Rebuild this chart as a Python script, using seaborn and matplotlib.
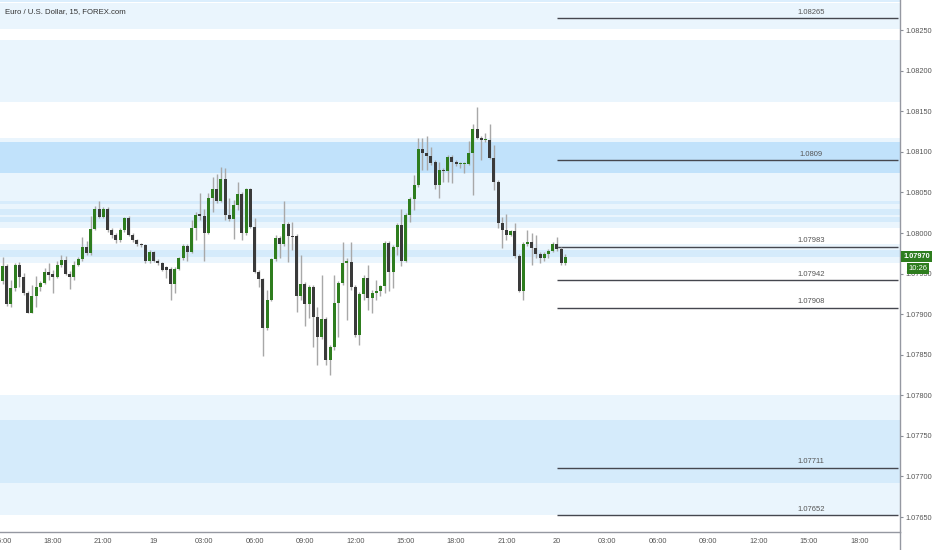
import matplotlib.pyplot as plt
import pandas as pd
import seaborn as sns
import numpy as np

# EUR/USD 15 min candles (index 0 = 15:00 on the 18th)
opens = [1.07941, 1.07959, 1.07913, 1.07932, 1.07961, 1.07946, 1.07926, 1.07902, 1.07923, 1.07933,
         1.07939, 1.07952, 1.07950, 1.07946, 1.07960, 1.07967, 1.07950, 1.07946, 1.07960, 1.07968,
         1.07983, 1.07975, 1.08005, 1.08030, 1.08020, 1.08030, 1.08004, 1.07998, 1.07991, 1.08004,
         1.08018, 1.07998, 1.07991, 1.07986, 1.07985, 1.07965, 1.07976, 1.07966, 1.07963, 1.07958,
         1.07956, 1.07937, 1.07956, 1.07969, 1.07984, 1.07977, 1.08006, 1.08023, 1.08021, 1.08000,
         1.08043, 1.08054, 1.08040, 1.08067, 1.08022, 1.08017, 1.08035, 1.08048, 1.08000, 1.08054,
         1.08008, 1.07952, 1.07943, 1.07883, 1.07918, 1.07968, 1.07994, 1.07986, 1.08011, 1.07996,
         1.07996, 1.07922, 1.07937, 1.07912, 1.07933, 1.07897, 1.07872, 1.07894, 1.07844, 1.07860,
         1.07914, 1.07938, 1.07963, 1.07964, 1.07934, 1.07874, 1.07925, 1.07944, 1.07920, 1.07926,
         1.07929, 1.07935, 1.07988, 1.07952, 1.07983, 1.08010, 1.07966, 1.08022, 1.08042, 1.08059,
         1.08103, 1.08099, 1.08095, 1.08088, 1.08059, 1.08078, 1.08076, 1.08094, 1.08088, 1.08085,
         1.08085, 1.08085, 1.08099, 1.08128, 1.08117, 1.08114, 1.08114, 1.08093, 1.08063, 1.08012,
         1.08004, 1.07998, 1.08002, 1.07972, 1.07929, 1.07987, 1.07989, 1.07981, 1.07974, 1.07969,
         1.07974, 1.07978, 1.07986, 1.07980, 1.07963]
closes = [1.07959, 1.07913, 1.07932, 1.07961, 1.07946, 1.07926, 1.07902, 1.07923, 1.07933, 1.07939,
          1.07952, 1.07948, 1.07946, 1.07960, 1.07967, 1.07950, 1.07946, 1.07961, 1.07968, 1.07983,
          1.07975, 1.08005, 1.08030, 1.08020, 1.08030, 1.08004, 1.07998, 1.07991, 1.08004, 1.08018,
          1.07998, 1.07991, 1.07986, 1.07985, 1.07965, 1.07976, 1.07966, 1.07963, 1.07955, 1.07955,
          1.07937, 1.07956, 1.07969, 1.07984, 1.07977, 1.08006, 1.08022, 1.08021, 1.08000, 1.08043,
          1.08054, 1.08040, 1.08067, 1.08022, 1.08017, 1.08035, 1.08048, 1.08000, 1.08054, 1.08008,
          1.07952, 1.07943, 1.07883, 1.07918, 1.07968, 1.07994, 1.07986, 1.08011, 1.07996, 1.07995,
          1.07922, 1.07937, 1.07912, 1.07933, 1.07897, 1.07872, 1.07894, 1.07844, 1.07860, 1.07914,
          1.07938, 1.07963, 1.07965, 1.07934, 1.07874, 1.07925, 1.07944, 1.07920, 1.07926, 1.07929,
          1.07935, 1.07988, 1.07952, 1.07983, 1.08010, 1.07966, 1.08022, 1.08042, 1.08059, 1.08103,
          1.08098, 1.08095, 1.08086, 1.08059, 1.08078, 1.08076, 1.08094, 1.08088, 1.08085, 1.08086,
          1.08086, 1.08099, 1.08128, 1.08117, 1.08114, 1.08115, 1.08093, 1.08063, 1.08012, 1.08004,
          1.07998, 1.08002, 1.07972, 1.07929, 1.07987, 1.07989, 1.07981, 1.07974, 1.07969, 1.07974,
          1.07978, 1.07986, 1.07980, 1.07963, 1.07970]
highs = [1.07971, 1.07962, 1.07942, 1.07963, 1.07964, 1.07951, 1.07929, 1.07936, 1.07947, 1.07941,
         1.07957, 1.07963, 1.07954, 1.07966, 1.07973, 1.07972, 1.07953, 1.07965, 1.07970, 1.07995,
         1.07990, 1.08021, 1.08033, 1.08039, 1.08032, 1.08032, 1.08006, 1.08000, 1.08006, 1.08020,
         1.08021, 1.08000, 1.07993, 1.07988, 1.07986, 1.07979, 1.07978, 1.07968, 1.07964, 1.07959,
         1.07958, 1.07958, 1.07970, 1.07987, 1.07987, 1.08016, 1.08026, 1.08049, 1.08030, 1.08049,
         1.08069, 1.08073, 1.08081, 1.08080, 1.08043, 1.08041, 1.08063, 1.08051, 1.08055, 1.08055,
         1.08018, 1.07954, 1.07945, 1.07930, 1.07969, 1.07998, 1.07996, 1.08039, 1.08014, 1.08014,
         1.07999, 1.07973, 1.07940, 1.07936, 1.07936, 1.07909, 1.07948, 1.07897, 1.07862, 1.07948,
         1.07941, 1.07989, 1.07969, 1.07989, 1.07936, 1.07927, 1.07948, 1.07961, 1.07930, 1.07942,
         1.07936, 1.07990, 1.07990, 1.07985, 1.08012, 1.08030, 1.08025, 1.08044, 1.08071, 1.08117,
         1.08117, 1.08119, 1.08106, 1.08090, 1.08088, 1.08080, 1.08096, 1.08096, 1.08090, 1.08087,
         1.08087, 1.08113, 1.08134, 1.08155, 1.08120, 1.08123, 1.08134, 1.08108, 1.08065, 1.08020,
         1.08024, 1.08004, 1.08012, 1.07974, 1.07989, 1.08004, 1.08000, 1.07998, 1.07977, 1.07977,
         1.07980, 1.07989, 1.07995, 1.07983, 1.07974]
lows = [1.07937, 1.07910, 1.07909, 1.07929, 1.07934, 1.07924, 1.07901, 1.07901, 1.07909, 1.07928,
        1.07937, 1.07942, 1.07926, 1.07945, 1.07958, 1.07948, 1.07931, 1.07942, 1.07959, 1.07966,
        1.07973, 1.07973, 1.08004, 1.08018, 1.08018, 1.08001, 1.07994, 1.07988, 1.07989, 1.08001,
        1.07996, 1.07989, 1.07984, 1.07983, 1.07963, 1.07963, 1.07964, 1.07961, 1.07953, 1.07945,
        1.07917, 1.07926, 1.07954, 1.07967, 1.07965, 1.07975, 1.07991, 1.08016, 1.07966, 1.07999,
        1.08026, 1.08037, 1.08038, 1.08016, 1.08015, 1.07993, 1.08028, 1.07991, 1.07998, 1.08006,
        1.07951, 1.07934, 1.07849, 1.07880, 1.07916, 1.07966, 1.07969, 1.07984, 1.07964, 1.07979,
        1.07903, 1.07917, 1.07885, 1.07895, 1.07860, 1.07837, 1.07869, 1.07837, 1.07825, 1.07856,
        1.07872, 1.07936, 1.07893, 1.07930, 1.07872, 1.07862, 1.07917, 1.07905, 1.07901, 1.07917,
        1.07922, 1.07926, 1.07929, 1.07932, 1.07973, 1.07959, 1.07964, 1.08014, 1.08028, 1.08057,
        1.08078, 1.08078, 1.08084, 1.08054, 1.08043, 1.08063, 1.08063, 1.08062, 1.08083, 1.08080,
        1.08074, 1.08084, 1.08047, 1.08116, 1.08090, 1.08112, 1.08091, 1.08053, 1.08006, 1.07981,
        1.07991, 1.07996, 1.07969, 1.07927, 1.07917, 1.07984, 1.07961, 1.07969, 1.07963, 1.07965,
        1.07969, 1.07977, 1.07978, 1.07961, 1.07961]

# shaded zones (low, high, strength)
zone_low = [1.08285, 1.08251, 1.08161, 1.08036, 1.08074, 1.08006, 1.08022, 1.08014,
            1.07963, 1.07971, 1.07653, 1.07692]
zone_high = [1.08300, 1.08283, 1.08238, 1.08117, 1.08112, 1.08039, 1.08030, 1.08020,
             1.07987, 1.07979, 1.07800, 1.07770]
zone_alpha = [0.16, 0.09, 0.09, 0.09, 0.2, 0.09, 0.1, 0.1, 0.09, 0.1, 0.09, 0.1]

# drawn levels
levels = [1.08265, 1.0809, 1.07983, 1.07942, 1.07908, 1.07711, 1.07652]
level_labels = ["1.08265", "1.0809", "1.07983", "1.07942", "1.07908", "1.07711", "1.07652"]

price_ticks = [1.0765, 1.077, 1.0775, 1.078, 1.0785, 1.079, 1.0795, 1.08, 1.0805, 1.081,
               1.0815, 1.082, 1.0825]
time_ticks = [0, 12, 24, 36, 48, 60, 72, 84, 96, 108, 120, 132, 144, 156, 168, 180, 192, 204]
time_labels = ["15:00", "18:00", "21:00", "19", "03:00", "06:00", "09:00", "12:00", "15:00",
               "18:00", "21:00", "20", "03:00", "06:00", "09:00", "12:00", "15:00", "18:00"]

sns.set_style("white")
plt.rcParams['font.family'] = ['Liberation Sans', 'DejaVu Sans']

df = pd.DataFrame({"o": opens, "h": highs, "l": lows, "c": closes})
df["x"] = np.arange(len(df))
up = df["c"] >= df["o"]

fig = plt.figure(figsize=(9.32, 5.5), dpi=100)
ax = fig.add_axes([0, 18 / 550, 900 / 932, 532 / 550])

for lo, hi, a in zip(zone_low, zone_high, zone_alpha):
    ax.axhspan(lo, hi, color="#2196f3", alpha=a, lw=0, zorder=0)

ax.hlines(levels, 132, 213.3, color="#45474f", lw=1, zorder=2)
for lv, lab in zip(levels, level_labels):
    ax.text(192.5, lv + 0.00003, lab, ha="center", va="bottom", fontsize=5.5, color="#555555", zorder=2)

# wicks then bodies
ax.vlines(df["x"], df["l"], df["h"], color="#a8a8a8", lw=1, zorder=3)
body_col = np.where(up, "#2e7d1e", "#3a3a3a")
body_h = np.maximum((df["c"] - df["o"]).abs(), 0.000015)
ax.bar(df["x"], body_h, bottom=np.minimum(df["o"], df["c"]), width=0.72,
       color=body_col, lw=0, zorder=4)

ax.set_xlim(-0.6, 213.7)
ax.set_ylim(1.076316, 1.082871)

ax.yaxis.tick_right()
ax.set_yticks(price_ticks)
ax.set_yticklabels([f"{v:.5f}" for v in price_ticks])
ax.set_xticks(time_ticks)
ax.set_xticklabels(time_labels)
ax.tick_params(axis="both", labelsize=5.3, labelcolor="#555555", color="#8a8d96",
               length=2.5, width=0.8, pad=1.5)
for s in ["left", "top"]:
    ax.spines[s].set_visible(False)
for s in ["right", "bottom"]:
    ax.spines[s].set_color("#9598a1")
    ax.spines[s].set_linewidth(1)

# last price + countdown tags
ax.text(1.0035, 1.07971, "1.07970", transform=ax.get_yaxis_transform(), ha="left", va="center",
        fontsize=5.3, color="white", fontweight="bold", clip_on=False, zorder=10,
        bbox=dict(boxstyle="square,pad=0.3", fc="#2e7d1e", ec="none"))
ax.text(1.02, 1.07956, "10:26", transform=ax.get_yaxis_transform(), ha="center", va="center",
        fontsize=5.5, color="white", clip_on=False, zorder=10,
        bbox=dict(boxstyle="square,pad=0.25", fc="#2e7d1e", ec="none"))

fig.add_artist(plt.Line2D([900 / 932, 900 / 932], [0, 18 / 550], color="#9598a1", lw=1))
fig.text(5 / 932, 1 - 12 / 550, "Euro / U.S. Dollar, 15, FOREX.com", fontsize=5.6,
         color="#333333", va="center", ha="left")

fig.savefig("out.png", dpi=100)
